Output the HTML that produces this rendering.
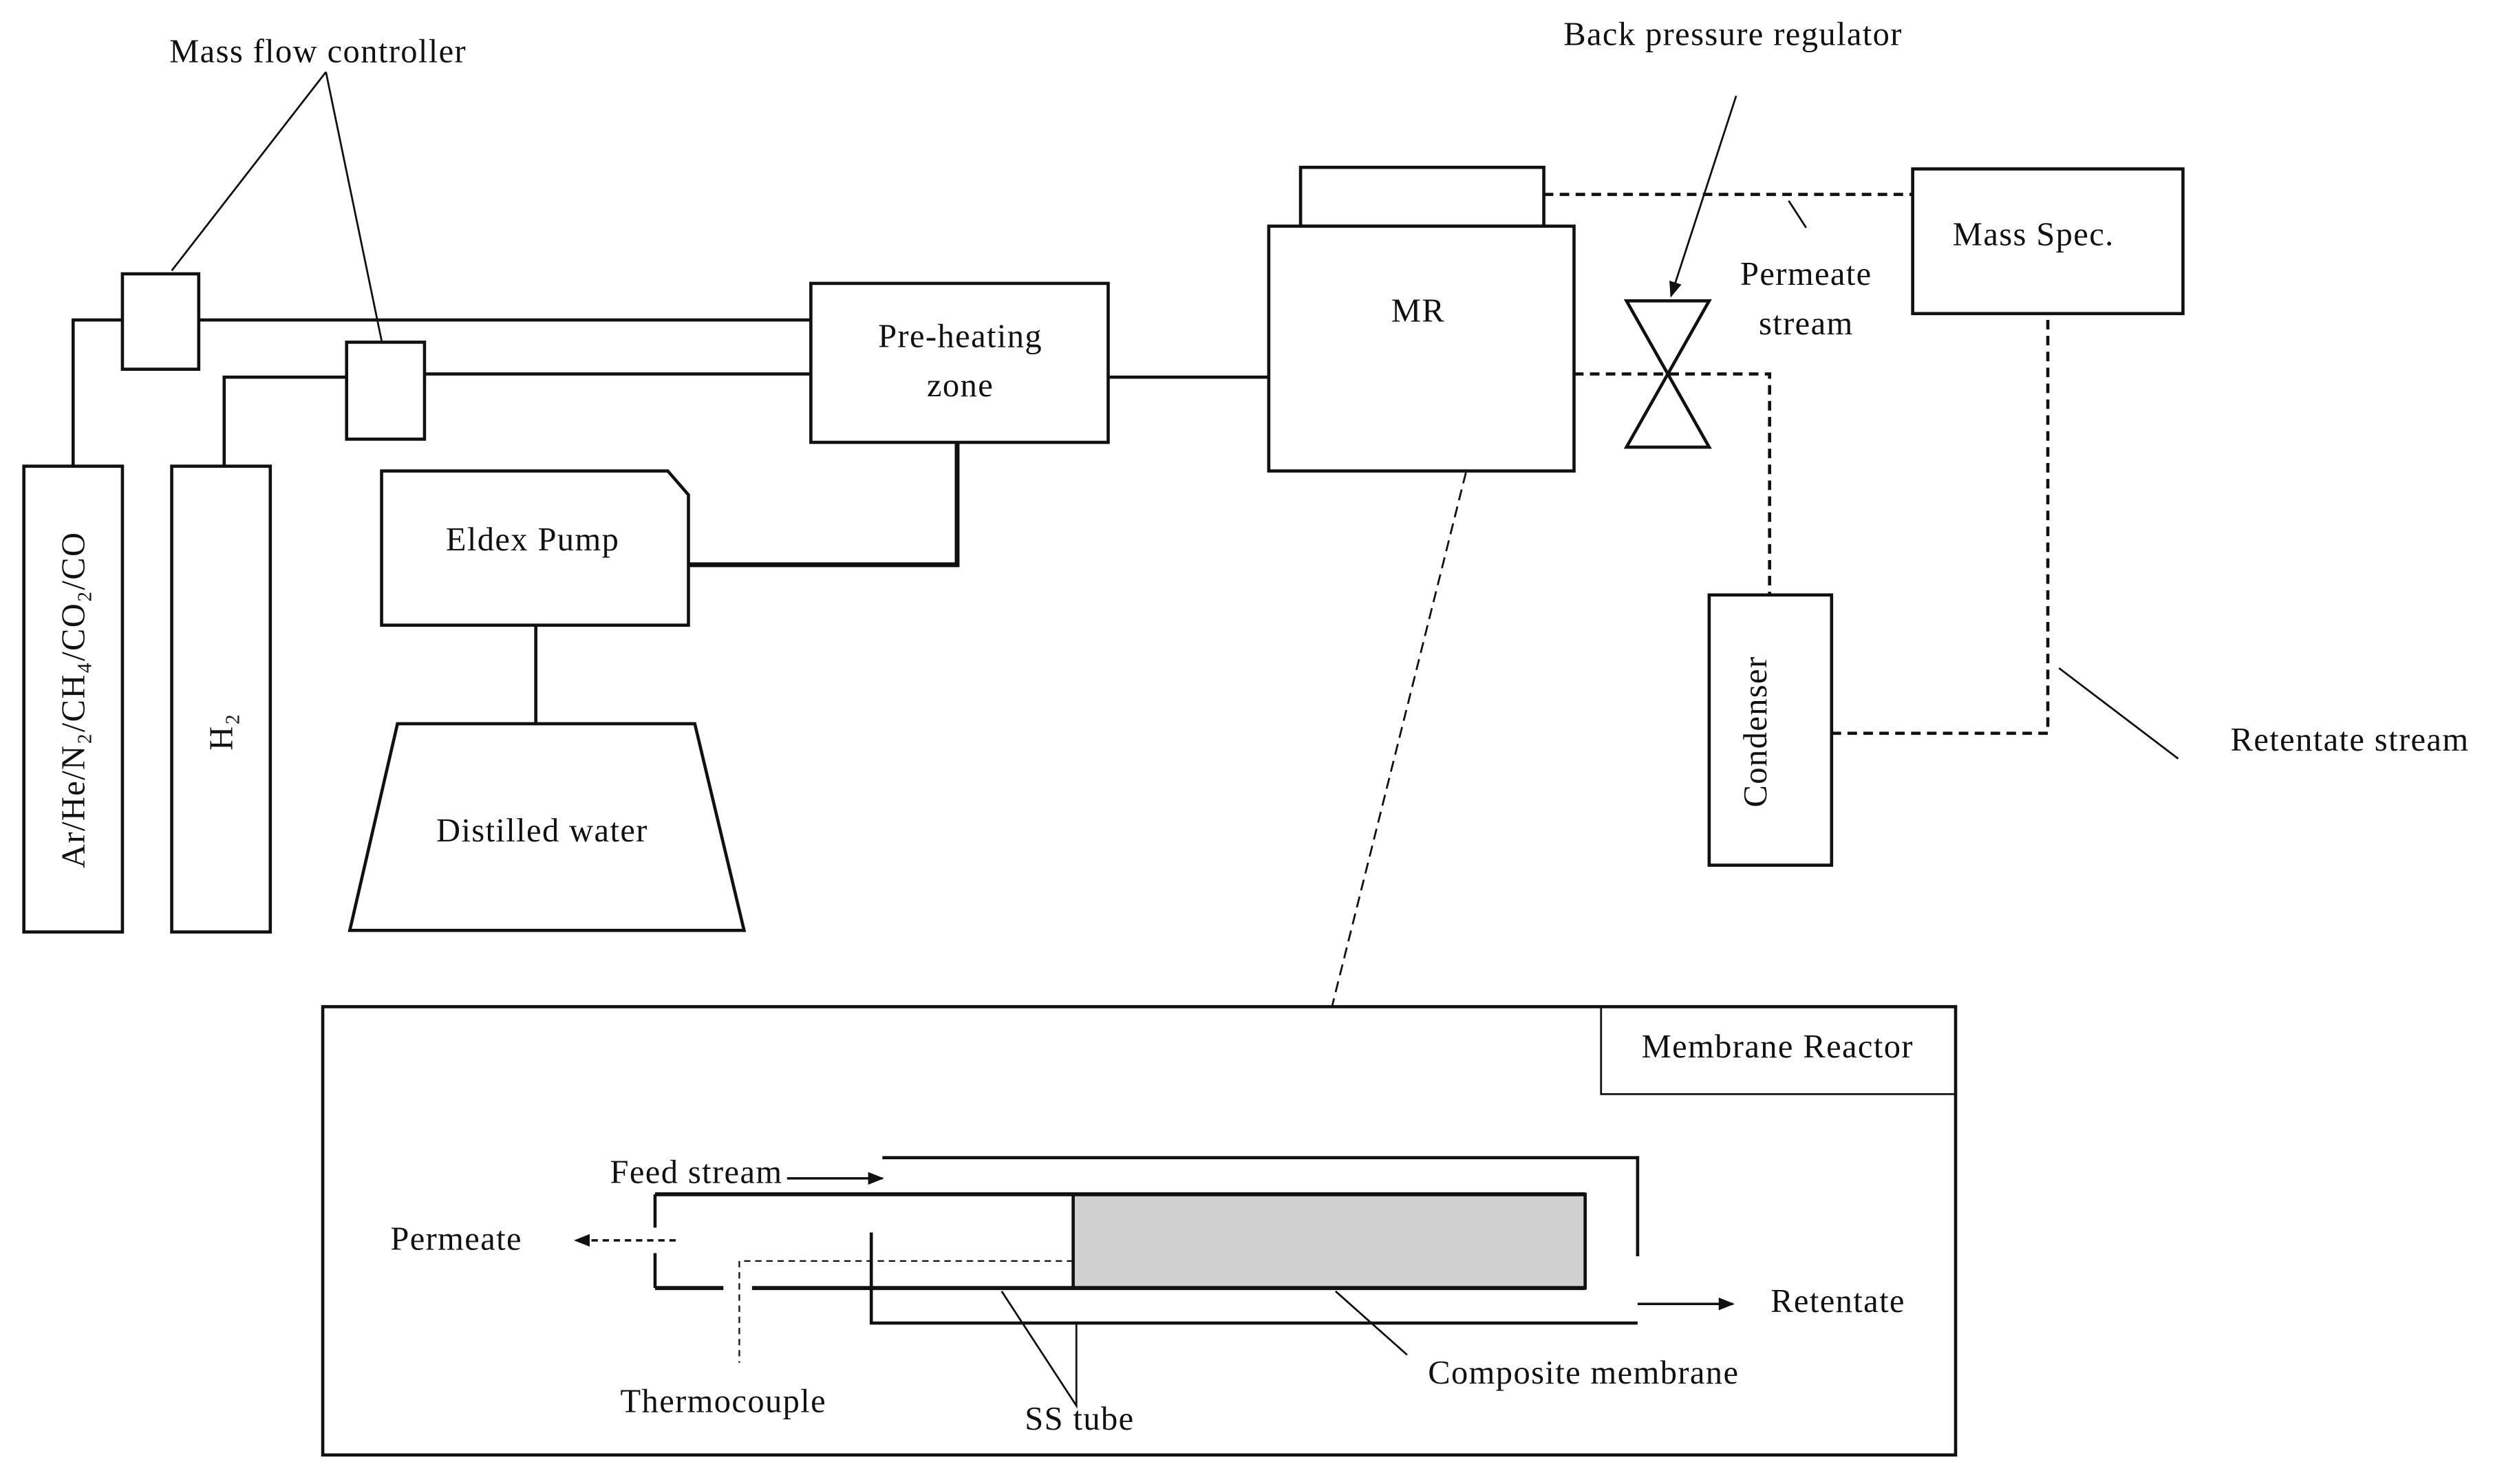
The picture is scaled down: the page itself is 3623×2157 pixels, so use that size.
<!DOCTYPE html>
<html><head><meta charset="utf-8"><style>
html,body{margin:0;padding:0;background:#fff;}
svg{display:block;}
text{font-family:"Liberation Serif",serif;font-size:21px;letter-spacing:0.6px;fill:#111;}
</style></head><body>
<svg width="3623" height="2157" viewBox="0 0 1568 933" xmlns="http://www.w3.org/2000/svg">
<defs>
<marker id="ah" markerWidth="10" markerHeight="10" refX="9" refY="5" orient="auto" markerUnits="userSpaceOnUse"><path d="M0,1 L10,5 L0,9 Z" fill="#111"/></marker>
</defs>
<g stroke="#111" fill="none" stroke-width="2">
<line x1="205" y1="45" x2="108" y2="170" stroke-width="1.2"/>
<line x1="205" y1="45" x2="240" y2="214" stroke-width="1.2"/>
<rect x="77" y="172" width="48" height="60"/>
<rect x="218" y="215" width="49" height="61"/>
<rect x="15" y="293" width="62" height="293"/>
<rect x="108" y="293" width="62" height="293"/>
<polyline points="46,293 46,201 77,201"/>
<line x1="125" y1="201" x2="510" y2="201"/>
<polyline points="141,293 141,237 218,237"/>
<line x1="267" y1="235" x2="510" y2="235"/>
<rect x="510" y="178" width="187" height="100"/>
<line x1="697" y1="237" x2="798" y2="237"/>
<polygon points="240,296 420,296 433,311 433,393 240,393"/>
<polyline points="433,355 602,355 602,278" stroke-width="3"/>
<line x1="337" y1="393" x2="337" y2="455"/>
<polygon points="250,455 437,455 468,585 220,585"/>
<rect x="798" y="142" width="192" height="154"/>
<rect x="818" y="105" width="153" height="37"/>
<rect x="1203" y="106" width="170" height="91"/>
<line x1="971" y1="122" x2="1203" y2="122" stroke-dasharray="6,4"/>
<line x1="1125" y1="126" x2="1136" y2="143" stroke-width="1.2"/>
<polygon points="1023,189 1075,189 1023,281 1075,281"/>
<line x1="1092" y1="60" x2="1051" y2="186" stroke-width="1.2" marker-end="url(#ah)"/>
<polyline points="990,235 1113,235 1113,374" stroke-dasharray="6,4"/>
<rect x="1075" y="374" width="77" height="170"/>
<polyline points="1152,461 1288,461 1288,197" stroke-dasharray="6,4"/>
<line x1="1295" y1="420" x2="1370" y2="477" stroke-width="1.2"/>
<line x1="922" y1="297" x2="838" y2="632" stroke-width="1.2" stroke-dasharray="7,4"/>
<rect x="203" y="633" width="1027" height="282"/>
<rect x="1007" y="633" width="223" height="55" stroke-width="1.2"/>
<polyline points="555,728 1030,728 1030,790"/>
<line x1="495" y1="741" x2="555" y2="741" stroke-width="1.5" marker-end="url(#ah)"/>
<rect x="675" y="751" width="322" height="59" fill="#d0d0d0"/>
<line x1="412" y1="751" x2="997" y2="751" stroke-width="2.5"/>
<line x1="412" y1="751" x2="412" y2="772"/>
<line x1="412" y1="788" x2="412" y2="810"/>
<line x1="412" y1="810" x2="455" y2="810" stroke-width="2.5"/>
<line x1="473" y1="810" x2="997" y2="810" stroke-width="2.5"/>
<polyline points="548,775 548,832 1030,832"/>
<line x1="425" y1="780" x2="362" y2="780" stroke-width="1.5" stroke-dasharray="4,3" marker-end="url(#ah)"/>
<polyline points="675,793 465,793 465,857" stroke-width="1" stroke-dasharray="4,3"/>
<line x1="1030" y1="820" x2="1090" y2="820" stroke-width="1.5" marker-end="url(#ah)"/>
<polyline points="630,812 677,884 677,832" stroke-width="1.2"/>
<line x1="840" y1="812" x2="885" y2="852" stroke-width="1.2"/>
</g>
<text x="200" y="39" text-anchor="middle">Mass flow controller</text>
<text x="1090" y="28" text-anchor="middle">Back pressure regulator</text>
<text x="604" y="218" text-anchor="middle">Pre-heating</text>
<text x="604" y="249" text-anchor="middle">zone</text>
<text x="335" y="346" text-anchor="middle">Eldex Pump</text>
<text x="341" y="529" text-anchor="middle">Distilled water</text>
<text x="892" y="202" text-anchor="middle">MR</text>
<text x="1279" y="154" text-anchor="middle">Mass Spec.</text>
<text x="1136" y="179" text-anchor="middle">Permeate</text>
<text x="1136" y="210" text-anchor="middle">stream</text>
<text x="1478" y="472" text-anchor="middle">Retentate stream</text>
<text transform="translate(53,440) rotate(-90)" text-anchor="middle">Ar/He/N₂/CH₄/CO₂/CO</text>
<text transform="translate(146,460) rotate(-90)" text-anchor="middle">H₂</text>
<text transform="translate(1111,460) rotate(-90)" text-anchor="middle">Condenser</text>
<text x="1118" y="665" text-anchor="middle">Membrane Reactor</text>
<text x="438" y="744" text-anchor="middle">Feed stream</text>
<text x="287" y="786" text-anchor="middle">Permeate</text>
<text x="1156" y="825" text-anchor="middle">Retentate</text>
<text x="455" y="888" text-anchor="middle">Thermocouple</text>
<text x="679" y="899" text-anchor="middle">SS tube</text>
<text x="996" y="870" text-anchor="middle">Composite membrane</text>
</svg>
</body></html>
